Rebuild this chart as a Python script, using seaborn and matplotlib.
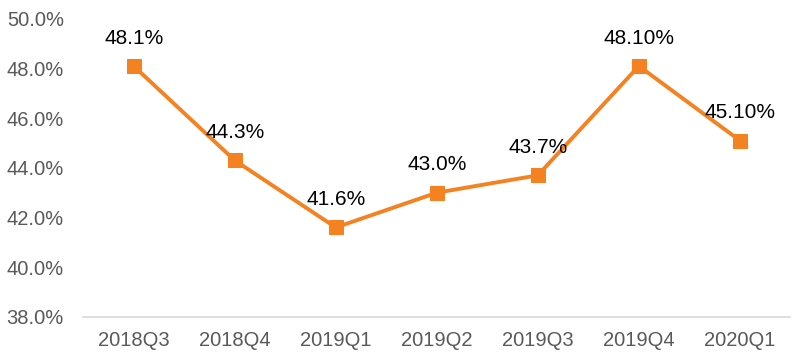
import pandas as pd
import seaborn as sns
import matplotlib.pyplot as plt
from matplotlib.ticker import FuncFormatter

quarters = ['2018Q3', '2018Q4', '2019Q1', '2019Q2', '2019Q3', '2019Q4', '2020Q1']
ratio = [48.1, 44.3, 41.6, 43.0, 43.7, 48.1, 45.1]
point_labels = ['48.1%', '44.3%', '41.6%', '43.0%', '43.7%', '48.10%', '45.10%']

df = pd.DataFrame({'quarter': quarters, 'ratio': ratio})

sns.set_theme(style='white')
plt.rcParams['font.family'] = ['Liberation Sans', 'DejaVu Sans']

fig = plt.figure(figsize=(8, 3.56), dpi=100)
ax = fig.add_axes([0.104, 0.11, 0.884, 0.837])

orange = '#F58220'
sns.lineplot(data=df, x='quarter', y='ratio', ax=ax, color=orange, linewidth=2.8,
             marker='s', markersize=10, markeredgecolor=orange, sort=False)

for i, (v, lab) in enumerate(zip(ratio, point_labels)):
    ax.annotate(lab, (i, v), xytext=(0, 20), textcoords='offset points',
                ha='center', va='center', fontsize=15, color='black')

ax.set_ylim(38, 50)
ax.set_yticks([38, 40, 42, 44, 46, 48, 50])
ax.yaxis.set_major_formatter(FuncFormatter(lambda y, _: f'{y:.1f}%'))
ax.set_xlim(-0.5, 6.5)
ax.set_xlabel('')
ax.set_ylabel('')

for s in ['top', 'right', 'left']:
    ax.spines[s].set_visible(False)
ax.spines['bottom'].set_color('#D9D9D9')
ax.spines['bottom'].set_linewidth(1.2)
ax.tick_params(axis='both', length=0, labelsize=14.5, colors='#595959')
ax.tick_params(axis='x', pad=10)
ax.tick_params(axis='y', pad=14)

fig.savefig('out.png', dpi=100)
